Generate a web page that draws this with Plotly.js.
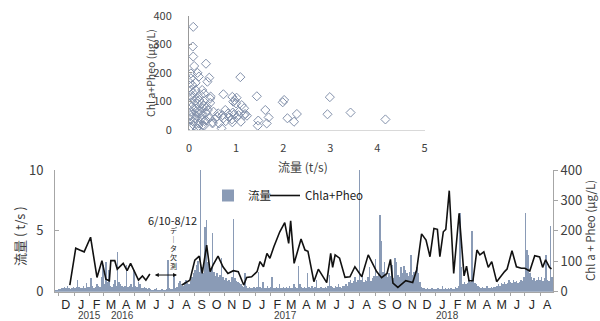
<!DOCTYPE html>
<html><head><meta charset="utf-8">
<script src="https://cdn.plot.ly/plotly-3.0.1.min.js"></script>
<style>html,body{margin:0;padding:0;background:#fff}#c{width:600px;height:321px}</style>
</head><body><div id="c"></div>
<script>
// ---- Flow (t/s), one value every 3 days starting 2015-11-24 ----
const flowStart = "2015-11-24";
const flowStepDays = 3;
const flowValues = [
 0.1,0.15,0.2,
 0.2,0.3,0.3,0.4,0.3,0.5,0.3,0.2,0.3,0.4,
 0.3,0.4,1.0,0.4,0.3,0.3,0.5,0.3,0.7,0.4,
 0.4,1.1,0.5,0.3,0.4,0.6,0.5,0.4,1.2,2.2,
 0.6,2.4,0.8,1.8,0.5,0.4,0.6,1.0,0.5,3.3,
 0.8,0.6,0.5,0.4,0.5,2.2,0.4,0.5,0.6,0.4,
 1.8,0.5,0.4,0.8,0.6,0.3,0.3,0.4,0.3,0.2,0.3,
 0.2,0.15,0.15,0.2,0.3,0.15,0.1,0.15,0.2,0.15,
 0.15,0.2,2.6,0.3,0.2,0.2,1.3,0.3,0.4,0.7,
 0.9,0.6,0.5,0.8,1.0,0.7,0.6,0.9,1.2,1.5,
 1.8,2.2,2.5,1.6,10.5,2.0,1.5,5.3,5.9,2.4,
 2.0,1.8,4.8,1.6,1.3,1.5,1.2,1.4,2.8,1.2,1.0,
 1.1,0.9,1.0,0.8,1.2,6.0,1.1,0.9,0.8,0.7,
 0.6,0.5,0.4,1.5,0.5,0.3,0.4,0.3,0.3,0.4,
 0.3,0.4,1.6,0.4,0.3,0.8,0.3,0.3,0.5,0.3,
 0.4,1.2,0.3,0.3,0.4,0.3,0.6,0.3,0.3,0.4,
 0.3,0.4,0.3,0.5,0.3,0.3,0.6,0.4,0.3,2.1,
 0.6,0.4,0.3,0.4,0.3,1.5,0.4,0.3,0.5,0.3,
 0.4,1.0,0.3,0.3,0.4,0.3,0.3,0.4,0.3,0.5,
 1.4,0.5,0.4,0.3,0.5,0.4,0.6,0.4,0.3,0.5,
 0.5,0.6,0.5,0.8,1.0,0.7,0.9,1.2,0.8,1.0,10.5,
 1.0,1.5,0.8,1.0,0.9,1.2,2.0,0.9,1.1,1.3,
 2.7,1.3,1.5,6.3,4.2,1.6,2.4,1.4,1.2,1.5,
 1.3,2.2,1.1,2.8,2.4,1.4,1.2,2.0,1.5,2.1,
 1.8,1.5,1.3,1.6,3.0,1.4,1.6,1.7,2.0,1.5,
 0.8,0.4,0.3,0.3,0.2,0.3,0.2,0.2,0.3,0.2,0.2,
 0.2,0.3,0.2,0.2,0.5,0.2,0.3,0.2,0.3,0.2,
 0.3,0.2,0.2,0.4,0.3,0.5,6.5,2.0,0.6,
 0.8,0.6,0.7,1.0,0.8,5.0,1.2,0.7,0.6,0.5,0.4,
 0.3,0.4,0.3,0.3,0.5,0.3,0.3,0.4,0.3,0.4,
 0.4,0.5,0.6,0.5,0.7,0.6,0.8,0.6,0.7,1.0,
 0.8,0.7,1.0,0.8,0.9,0.7,0.8,1.0,0.9,1.2,
 6.5,3.4,3.0,1.5,1.2,1.0,1.1,0.9,1.0,1.2,
 1.0,1.2,0.9,1.1,3.0,1.0,0.9,5.4,1.2
];

// ---- Chl a + Pheo (µg/L) time series ----
const chlDates = [
 "2015-12-23","2016-01-04","2016-01-12","2016-01-21","2016-02-03","2016-02-16","2016-02-26","2016-03-05","2016-03-12","2016-03-15",
 "2016-03-23","2016-03-28","2016-04-09","2016-04-17","2016-04-24","2016-05-01","2016-05-10","2016-05-18","2016-05-25","2016-06-02",
 "2016-07-01",
 "2016-08-06","2016-08-15","2016-08-22","2016-09-01","2016-09-10","2016-09-16","2016-09-25","2016-10-02","2016-10-08","2016-10-18",
 "2016-10-28","2016-11-07","2016-11-18","2016-11-28","2016-12-09","2016-12-15","2016-12-25","2017-01-05","2017-01-11","2017-01-18",
 "2017-01-25","2017-01-31","2017-02-08","2017-02-20","2017-03-02","2017-03-10","2017-03-14","2017-03-21","2017-04-04","2017-04-12",
 "2017-04-18","2017-04-30","2017-05-09","2017-05-26","2017-06-03","2017-06-07","2017-06-12","2017-06-21","2017-07-02","2017-07-12",
 "2017-07-22","2017-08-05","2017-08-18","2017-09-04","2017-09-14","2017-09-25","2017-10-02","2017-10-07","2017-10-17","2017-11-02",
 "2017-11-16","2017-11-24","2017-12-04","2017-12-13","2017-12-21","2017-12-29","2018-01-05","2018-01-10","2018-01-17","2018-01-22",
 "2018-01-29","2018-02-07","2018-02-18","2018-02-28","2018-03-05","2018-03-10","2018-03-18","2018-03-26","2018-04-01","2018-04-09",
 "2018-04-18","2018-04-25","2018-05-05","2018-05-21","2018-05-26","2018-06-05","2018-06-14","2018-06-24","2018-07-01","2018-07-11",
 "2018-07-21","2018-07-31","2018-08-06","2018-08-12","2018-08-20","2018-08-24"
];
const chlValues = [
 22,143,137,131,179,47,102,41,36,102,
 102,74,93,69,93,69,38,52,38,58,
 null,
 22,30,38,104,117,60,153,66,88,117,
 82,60,69,66,22,47,49,66,99,82,
 126,110,148,197,227,159,233,93,173,137,
 133,33,74,30,126,80,121,110,47,49,
 82,49,121,66,46,60,106,28,14,36,
 30,71,190,170,115,208,205,115,197,205,
 332,60,258,52,84,36,36,137,121,131,
 80,99,33,66,74,135,82,77,77,68,
 118,114,80,105,80,75
];

// ---- Scatter: flow (t/s) vs Chl a + Pheo (µg/L) ----
const scatterFlow = [
 0.09,0.08,0.09,0.11,0.36,0.04,0.18,0.21,0.04,0.43,0.39,1.09,0.07,0.04,0.14,0.25,0.18,0.07,0.32,0.46,
 0.45,0.73,0.92,1.01,0.97,0.04,0.18,0.32,0.11,0.23,0.40,0.52,0.04,0.16,0.28,0.43,0.60,0.71,0.83,0.96,
 1.06,1.17,0.09,0.21,0.33,0.50,0.64,0.78,0.92,1.10,0.69,0.04,0.18,0.32,1.44,2.02,1.99,2.99,2.94,3.43,
 4.17,1.62,1.47,1.46,1.69,1.65,2.09,2.29,2.23,1.19,1.17,1.01,1.05,0.93,0.91,0.73,0.77,0.62,0.50,0.38,
 0.30,0.29,0.20,1.12,1.00,0.94,0.06,0.12,0.02,0.08,0.15,0.22,0.13,0.26,0.05,0.02,0.11,0.24,0.36,0.55,
 0.27,0.14,0.02,0.28,0.45,0.85,1.23,0.17,0.06,0.35
];
const scatterChl = [
 361,292,257,224,232,198,200,187,181,183,169,185,157,140,140,122,111,113,128,117,
 110,125,116,113,104,97,93,85,70,66,70,64,52,50,52,41,47,52,58,55,
 64,52,29,23,31,27,23,31,27,29,6,12,6,15,118,105,97,115,55,61,
 37,70,33,15,44,23,41,56,29,56,76,44,52,61,37,41,70,58,23,82,
 76,17,14,87,93,99,82,100,120,130,75,105,40,40,65,35,15,58,60,40,
 92,165,165,140,95,44,50,60,45,35
];

// ---- Axis labels ----
const monthLabels = ["D","J","F","M","A","M","J","J","A","S","O","N",
 "D","J","F","M","A","M","J","J","A","S","O","N",
 "D","J","F","M","A","M","J","J","A"];
const yearLabels = ["2015","2016","2017","2018"];
const yearLabelPx = [89,123,285,447];

// derived positions
const DAY = 86400000;
const t0 = Date.parse(flowStart + "T00:00:00Z");
const flowDates = flowValues.map((v,i)=> new Date(t0 + i*flowStepDays*DAY).toISOString().slice(0,10));
const monthStarts = monthLabels.map((m,k)=> new Date(Date.UTC(2015, 11+k, 1)).toISOString().slice(0,10));
const monthMids = monthLabels.map((m,k)=> new Date(Date.UTC(2015, 11+k, 15)).toISOString().slice(0,10));

const FONT = "Noto Sans CJK JP, Noto Sans, sans-serif";
const LATIN = "Liberation Sans, Arial, sans-serif";
const W=600, H=321;
const px = x => x/W, py = y => 1 - y/H;

const traces = [
 {type:"bar", x:flowDates, y:flowValues, name:"流量", xaxis:"x", yaxis:"y", legend:"legend",
  width: flowStepDays*DAY, marker:{color:"#8a9bb6", line:{width:0}}, hoverinfo:"skip"},
 {type:"scatter", mode:"lines", x:chlDates, y:chlValues, name:"Chla+Pheo", xaxis:"x", yaxis:"y2", legend:"legend2",
  connectgaps:false, line:{color:"#111", width:1.6}},
 {type:"scatter", mode:"markers", x:scatterFlow, y:scatterChl, xaxis:"x2", yaxis:"y3", showlegend:false,
  marker:{symbol:"diamond-open", size:7, color:"#8391ab", line:{width:1, color:"#8391ab"}}}
];

const axisGray = "#a6a6a6";
const txt = "#404040";
function ann(x, y, text, size, extra){
 return Object.assign({xref:"paper", yref:"paper", x:px(x), y:py(y), text:text, showarrow:false,
   xanchor:"center", yanchor:"middle", font:{size:size, color:txt}}, extra||{});
}
const legendBase = {orientation:"h", xanchor:"left", yanchor:"top", bgcolor:"rgba(0,0,0,0)",
   font:{size:11.5, color:"#222"}, itemwidth:30};
const layout = {
 width:W, height:H, margin:{l:0,r:0,t:0,b:0}, paper_bgcolor:"#fff", plot_bgcolor:"rgba(0,0,0,0)",
 font:{family:FONT, color:txt, size:12},
 bargap:0, showlegend:true,
 legend:Object.assign({x:px(208), y:py(181)}, legendBase),
 legend2:Object.assign({x:px(265), y:py(181)}, legendBase),
 xaxis:{type:"date", domain:[px(55), px(553)], anchor:"y", range:["2015-11-23","2018-08-27"],
   tickmode:"array", tickvals:monthMids, ticktext:monthLabels, ticks:"", ticklabelstandoff:1,
   tickfont:{size:12.5, color:"#262626", family:LATIN},
   minor:{tickmode:"array", tickvals:monthStarts, ticks:"outside", ticklen:3, tickcolor:axisGray, showgrid:false},
   showline:true, linecolor:axisGray, linewidth:1, showgrid:false, zeroline:false},
 yaxis:{domain:[py(291.7), py(170)], anchor:"x", range:[0,10], tickvals:[0,5,10], ticks:"inside", ticklen:4,
   tickcolor:axisGray, showline:true, linecolor:axisGray, showgrid:false, zeroline:false,
   tickfont:{size:13, color:txt}, ticklabelstandoff:8},
 yaxis2:{overlaying:"y", side:"right", anchor:"x", range:[0,400], tickvals:[0,100,200,300,400],
   ticks:"outside", ticklen:4, tickcolor:axisGray, showline:true, linecolor:axisGray, showgrid:false, zeroline:false,
   tickfont:{size:13, color:txt}},
 xaxis2:{domain:[px(189), px(424.5)], anchor:"y3", range:[0,5], dtick:1, ticks:"", showline:true,
   linecolor:"#d9d9d9", showgrid:false, zeroline:false, tickfont:{size:11, color:txt}, ticklabelstandoff:8},
 yaxis3:{domain:[py(130), py(15.7)], anchor:"x2", range:[0,400], dtick:100, ticks:"inside", ticklen:3,
   tickcolor:"#999", showline:true, linecolor:"#999", showgrid:false, zeroline:false,
   tickfont:{size:11, color:txt}, ticklabelstandoff:14},
 annotations:[
  ann(150, 73, "Chl a+Pheo (µg/L)", 10.5, {textangle:-90}),
  ann(303, 167, "流量 (t/s)", 12),
  ann(19, 236, "流量 ( t/s )", 13, {textangle:-90}),
  ann(590, 231, "Chl a + Pheo (µg/L)", 11.5, {textangle:-90}),
  ann(172.5, 220, "6/10-8/12", 11, {font:{size:11, color:"#222"}}),
  ann(173.5, 248, "デ<br>｜<br>タ<br>欠<br>測", 7, {font:{size:7, color:"#222"}}),
  {xref:"x", yref:"y", x:"2016-07-27", y:1.37, ax:"2016-06-09", ay:1.37, axref:"x", ayref:"y", text:"",
   showarrow:true, arrowside:"end+start", arrowhead:2, arrowsize:0.8, arrowwidth:1, arrowcolor:"#111"}
 ].concat(yearLabels.map((t,i)=> ann(yearLabelPx[i], 315.5, t, 10, {font:{size:10, color:txt, family:LATIN}})))
};

Plotly.newPlot("c", traces, layout, {staticPlot:true, displayModeBar:false});
</script></body></html>
